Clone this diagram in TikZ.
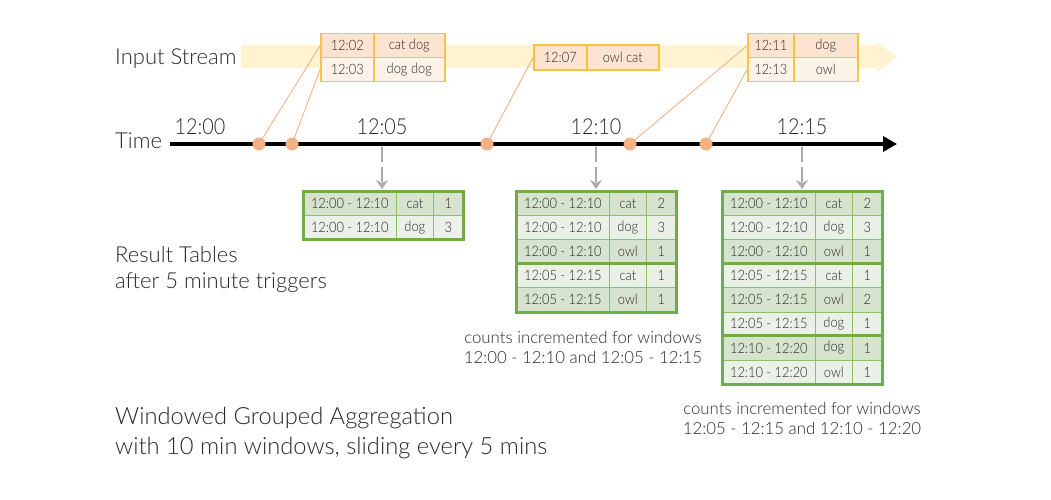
\documentclass[tikz,border=0pt]{standalone}
\usepackage{fontspec}
\setmainfont{Lato Light}
\newfontfamily\condfam{Lato Light}[FakeStretch=0.9]
\usetikzlibrary{arrows.meta}
\definecolor{band}{RGB}{255,243,210}
\definecolor{boxb}{RGB}{249,194,66}
\definecolor{pk1}{RGB}{252,228,208}
\definecolor{pk2}{RGB}{253,243,233}
\definecolor{dot}{RGB}{244,177,131}
\definecolor{gborder}{RGB}{112,173,71}
\definecolor{ginner}{RGB}{140,191,106}
\definecolor{gd}{RGB}{214,227,207}
\definecolor{gl}{RGB}{235,241,231}
\definecolor{txt}{RGB}{40,40,40}
\definecolor{garr}{RGB}{170,170,170}
\newcommand\bigf{\fontsize{22}{26}\selectfont}
\newcommand\wgf{\fontsize{23.7}{28}\selectfont}
\newcommand\timef{\condfam\fontsize{22}{26}\selectfont}
\newcommand\tabf{\condfam\fontsize{14.3}{16}\selectfont}
\newcommand\capf{\fontsize{16.8}{20}\selectfont}
\tikzset{
  lbl/.style={anchor=base west, text=txt, font=\bigf, inner sep=0pt},
  tlbl/.style={anchor=base, text=txt, font=\timef, inner sep=0pt},
  captext/.style={align=center, text=txt, font=\capf, inner sep=0pt},
  cell/.style={draw=ginner, line width=0.7pt, anchor=north west, minimum height=24.1pt, inner sep=0pt, text=txt, font=\tabf},
  ca/.style={cell, minimum width=93pt},
  cb/.style={cell, minimum width=37pt},
  cc/.style={cell, minimum width=30pt},
  icell/.style={draw=boxb, line width=1.5pt, anchor=north west, inner sep=0pt, text=txt, font=\tabf},
  gframe/.style={draw=gborder, line width=3pt},
  gsep/.style={draw=gborder, line width=2.5pt},
  garrow/.style={draw=garr, line width=1.6pt, dash pattern=on 15pt off 5pt, -{Stealth[length=9pt,width=12pt,inset=3pt]}, shorten >=2pt},
  oline/.style={draw=dot, line width=0.9pt},
  dotn/.style={circle, fill=dot, minimum size=13pt, inner sep=0pt},
}
\newcommand\tabrows[4]{%
  \foreach \f/\r/\w/\c [count=\i from 1] in {#4} {
    \node[ca, fill=\f] (#1r\i a) at ({#2},{#3+(\i-1)*24.1}) {\r};
    \node[cb, fill=\f] (#1r\i b) at ({#2+93},{#3+(\i-1)*24.1}) {\w};
    \node[cc, fill=\f] (#1r\i c) at ({#2+130},{#3+(\i-1)*24.1}) {\c};
  }}
\begin{document}
\begin{tikzpicture}[x=1pt,y=-1pt]
\useasboundingbox (0,0) rectangle (1051,500);
% input stream band
\fill[band] (241,45) -- (877,45) -- (877,42) -- (897,57) -- (877,72) -- (877,68) -- (241,68) -- cycle;
\node[lbl] (instream) at (115,65) {Input Stream};
% time axis
\node[lbl] (time) at (115,148) {Time};
\coordinate (axL) at (170,144);
\coordinate (axR) at (897,144);
\draw[line width=3.2pt, -{Triangle[length=14pt,width=15pt]}] (axL) -- (axR);
\node[tlbl] (t00) at (200,135) {12:00};
\node[tlbl] (t05) at (382,135) {12:05};
\node[tlbl] (t10) at (596,135) {12:10};
\node[tlbl] (t15) at (802,135) {12:15};
% input boxes
\node[icell, fill=pk1, minimum width=53pt, minimum height=24pt] (b1r1a) at (320,33) {12:02};
\node[icell, fill=pk1, minimum width=71pt, minimum height=24pt] (b1r1b) at (373,33) {cat dog};
\node[icell, fill=pk2, minimum width=53pt, minimum height=24pt] (b1r2a) at (320,57) {12:03};
\node[icell, fill=pk2, minimum width=71pt, minimum height=24pt] (b1r2b) at (373,57) {dog dog};
\node[icell, fill=pk1, minimum width=53pt, minimum height=25pt] (b2r1a) at (533,44.5) {12:07};
\node[icell, fill=pk1, minimum width=72pt, minimum height=25pt] (b2r1b) at (586,44.5) {owl cat};
\node[icell, fill=pk1, minimum width=46pt, minimum height=24pt] (b3r1a) at (747,33) {12:11};
\node[icell, fill=pk1, minimum width=64pt, minimum height=24pt] (b3r1b) at (793,33) {dog};
\node[icell, fill=pk2, minimum width=46pt, minimum height=24pt] (b3r2a) at (747,57) {12:13};
\node[icell, fill=pk2, minimum width=64pt, minimum height=24pt] (b3r2b) at (793,57) {owl};
% connectors and dots
\coordinate (p1) at (259,144);
\coordinate (p2) at (292,144);
\coordinate (p3) at (487,144);
\coordinate (p4) at (630,144);
\coordinate (p5) at (706,144);
\draw[oline] (b1r1a.west) -- (p1);
\draw[oline] (b1r2a.west) -- (p2);
\draw[oline] (b2r1a.west) -- (p3);
\draw[oline] (b3r1a.west) -- (p4);
\draw[oline] (b3r2a.west) -- (p5);
\node[dotn] (d1) at (p1) {};
\node[dotn] (d2) at (p2) {};
\node[dotn] (d3) at (p3) {};
\node[dotn] (d4) at (p4) {};
\node[dotn] (d5) at (p5) {};
% result tables
\tabrows{t1}{303}{191}{gd/12:00 - 12:10/cat/1, gl/12:00 - 12:10/dog/3}
\draw[gframe] (t1r1a.north west) rectangle (t1r2c.south east);
\tabrows{t2}{516}{191}{gd/12:00 - 12:10/cat/2, gl/12:00 - 12:10/dog/3, gd/12:00 - 12:10/owl/1, gl/12:05 - 12:15/cat/1, gd/12:05 - 12:15/owl/1}
\draw[gsep] (t2r4a.north west) -- (t2r4c.north east);
\draw[gframe] (t2r1a.north west) rectangle (t2r5c.south east);
\tabrows{t3}{722}{191}{gd/12:00 - 12:10/cat/2, gl/12:00 - 12:10/dog/3, gd/12:00 - 12:10/owl/1, gl/12:05 - 12:15/cat/1, gd/12:05 - 12:15/owl/2, gl/12:05 - 12:15/dog/1, gd/12:10 - 12:20/dog/1, gl/12:10 - 12:20/owl/1}
\draw[gsep] (t3r4a.north west) -- (t3r4c.north east);
\draw[gsep] (t3r7a.north west) -- (t3r7c.north east);
\draw[gframe] (t3r1a.north west) rectangle (t3r8c.south east);
% trigger arrows
\coordinate (k5) at (382,146.5);
\coordinate (k10) at (596,146.5);
\coordinate (k15) at (802,146.5);
\draw[garrow] (k5) -- (k5 |- t1r1a.north);
\draw[garrow] (k10) -- (k10 |- t2r1a.north);
\draw[garrow] (k15) -- (k15 |- t3r1a.north);
% captions
\node[lbl] (rt1) at (115,262) {Result Tables};
\node[lbl] (rt2) at (115,288) {after 5 minute triggers};
\node[lbl, font=\wgf] (wg1) at (115,424) {Windowed Grouped Aggregation};
\node[lbl, font=\wgf] (wg2) at (115,454) {with 10 min windows, sliding every 5 mins};
\node[captext] (c2) at (583,347) {counts incremented for windows\\12:00 - 12:10 and 12:05 - 12:15};
\node[captext] (c3) at (802,418) {counts incremented for windows\\12:05 - 12:15 and 12:10 - 12:20};
\end{tikzpicture}
\end{document}
